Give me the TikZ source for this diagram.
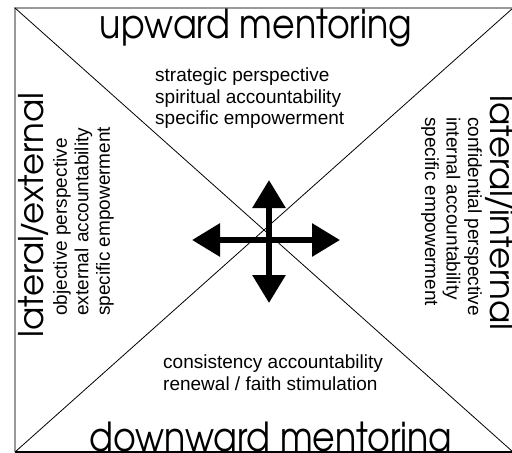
\documentclass[tikz,border=0pt]{standalone}
\usepackage{fontspec}
\setmainfont{Liberation Sans}
\newfontfamily\gothic{TeX Gyre Adventor}
\usetikzlibrary{arrows.meta}
\newcommand{\narrow}[1]{\scalebox{0.87}[1]{#1}}
\tikzset{
  heading/.style={font=\gothic\fontsize{40}{40}\selectfont, inner sep=0pt},
  sideheading/.style={font=\gothic\fontsize{34}{34}\selectfont, inner sep=0pt},
  notes/.style={font=\fontsize{19}{21.5}\selectfont, align=left, inner sep=0pt},
  bigarrow/.style={line width=6pt, {Triangle[length=28pt,width=32pt]}-{Triangle[length=28pt,width=32pt]}}
}
\begin{document}
\begin{tikzpicture}[x=1pt,y=-1pt]
    \useasboundingbox (0,0) rectangle (512,453);
    % frame and diagonals
    \coordinate (nw) at (15,8);
    \coordinate (ne) at (513,8);
    \coordinate (sw) at (15,452);
    \coordinate (se) at (513,452);
    \draw [gray!80, line width=1.5pt] (sw) -- (nw) -- (ne);
    \draw [line width=1.2pt] (sw) -- (se);
    \draw [line width=0.8pt] (nw) -- (se);
    \draw [line width=0.8pt] (sw) -- (ne);
    % headings
    \node [heading, anchor=base] (upward) at (256,38) {\narrow{upward mentoring}};
    \node [heading, anchor=base] (downward) at (271,451) {\narrow{downward mentoring}};
    \node [sideheading, rotate=90, anchor=base] (external) at (43,215) {lateral\kern-3pt/\kern-3pt external};
    \node [sideheading, rotate=-90, anchor=base] (internal) at (490,213) {lateral\kern-3pt/\kern-3pt internal};
    % notes
    \node [notes, anchor=north west] (upnotes) at (155,68) {strategic perspective\\spiritual accountability\\specific empowerment};
    \node [notes, anchor=north west] (downnotes) at (163,355) {consistency accountability\\renewal / faith stimulation};
    \node [notes, rotate=90, anchor=north west] (extnotes) at (53,316) {objective perspective\\external accountability\\specific empowerment};
    \node [notes, rotate=-90, anchor=north west] (intnotes) at (482,117) {confidential perspective\\internal accountability\\specific empowerment};
    % arrows
    \coordinate (tipW) at (192,240);
    \coordinate (tipE) at (340,240);
    \coordinate (tipN) at (269,180);
    \coordinate (tipS) at (269,303);
    \draw [bigarrow] (tipW) -- (tipE);
    \draw [bigarrow] (tipN) -- (tipS);
\end{tikzpicture}
\end{document}
